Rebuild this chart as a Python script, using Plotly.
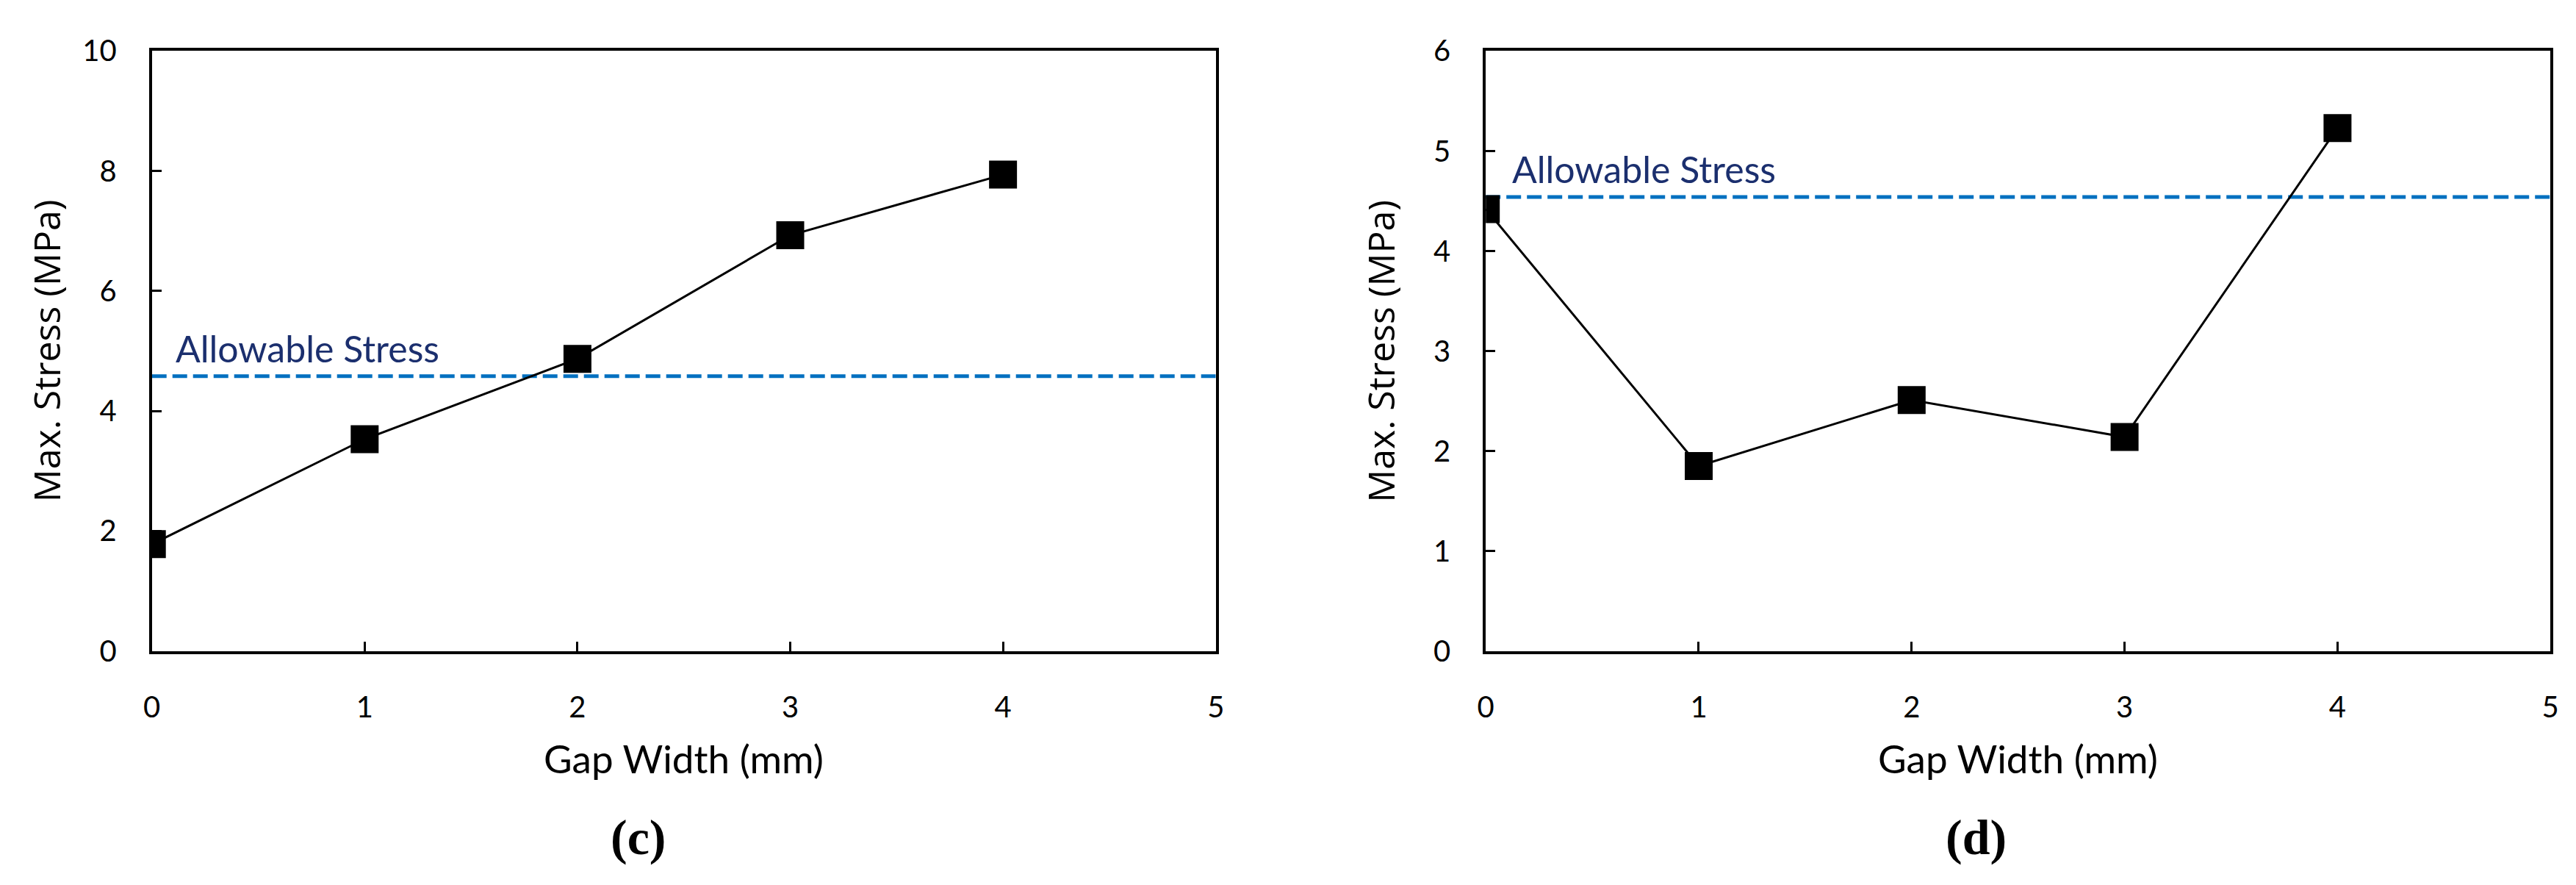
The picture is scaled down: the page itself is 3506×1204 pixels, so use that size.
import plotly.graph_objects as go

# Datos
gap_width = [0, 1, 2, 3, 4]
stress_c = [1.78, 3.53, 4.87, 6.93, 7.94]
stress_d = [4.42, 1.85, 2.51, 2.14, 5.23]
allowable_c = 4.58
allowable_d = 4.54

x_range = [0, 5]
y_range_c = [0, 10]
y_range_d = [0, 6]
x_ticks = [0, 1, 2, 3, 4, 5]
y_ticks_c = [0, 2, 4, 6, 8, 10]
y_ticks_d = [0, 1, 2, 3, 4, 5, 6]
panel_labels = ["(c)", "(d)"]

W, H = 3506, 1204
tick_font = dict(family="Lato, Calibri, sans-serif", size=40, color="black")

fig = go.Figure()

panels = [
    ("x", "y", stress_c, allowable_c, 0.103),
    ("x2", "y2", stress_d, allowable_d, 0.117),
]
for xa, ya, vals, allow, tx in panels:
    # línea de esfuerzo admisible
    fig.add_trace(go.Scatter(
        x=x_range, y=[allow, allow], xaxis=xa, yaxis=ya, mode="lines",
        line=dict(color="#0070C0", width=5, dash="20px,8px"),
        showlegend=False, hoverinfo="skip",
    ))
    fig.add_trace(go.Scatter(
        x=gap_width, y=vals, xaxis=xa, yaxis=ya, mode="lines+markers",
        line=dict(color="black", width=3),
        marker=dict(symbol="square", size=38, color="black"),
        showlegend=False,
    ))
    fig.add_annotation(
        x=tx, y=allow, xref=xa, yref=ya, text="Allowable Stress",
        showarrow=False, xanchor="left", yanchor="bottom", yshift=6,
        font=dict(family="Lato, Calibri, sans-serif", size=50, color="#1B2F6E"),
    )

axis_common = dict(
    showline=True, linecolor="black", linewidth=4, mirror=True,
    ticks="inside", ticklen=13, tickwidth=3, tickcolor="black",
    showgrid=False, zeroline=False, tickfont=tick_font,
)

dom_c = [188 / W, 1646 / W]
dom_d = [2016 / W, 3475 / W]
dom_y = [1 - 888 / H, 1 - 38 / H]

fig.update_layout(
    width=W, height=H,
    margin=dict(l=0, r=0, t=0, b=0),
    paper_bgcolor="white", plot_bgcolor="white",
    xaxis=dict(domain=dom_c, range=x_range, tickvals=x_ticks, anchor="y",
               ticklabelstandoff=38, **axis_common),
    yaxis=dict(domain=dom_y, range=y_range_c, tickvals=y_ticks_c, anchor="x",
               ticklabelstandoff=36, **axis_common),
    xaxis2=dict(domain=dom_d, range=x_range, tickvals=x_ticks, anchor="y2",
                ticklabelstandoff=38, **axis_common),
    yaxis2=dict(domain=dom_y, range=y_range_d, tickvals=y_ticks_d, anchor="x2",
                ticklabelstandoff=36, **axis_common),
)

# títulos de ejes
for dom in [dom_c, dom_d]:
    cx = (dom[0] + dom[1]) / 2
    fig.add_annotation(
        x=cx, y=1 - 1040 / H, xref="paper", yref="paper", text="Gap Width (mm)",
        showarrow=False, xanchor="center", yanchor="middle",
        font=dict(family="Lato, Calibri, sans-serif", size=53, color="black"),
    )
    fig.add_annotation(
        x=dom[0] - 145 / W, y=(dom_y[0] + dom_y[1]) / 2, xref="paper", yref="paper",
        text="Max. Stress (MPa)", textangle=-90, showarrow=False,
        xanchor="center", yanchor="middle",
        font=dict(family="Open Sans, sans-serif", size=50, color="black"),
    )

# etiquetas de panel
for lbl, lx in zip(panel_labels, [854 / W, 2688 / W]):
    fig.add_annotation(
        x=lx, y=1 - 1152 / H, xref="paper", yref="paper", text="<b>" + lbl + "</b>",
        showarrow=False, xanchor="center", yanchor="middle",
        font=dict(family="Liberation Serif, serif", size=68, color="black"),
    )

fig.write_html("out.html")
